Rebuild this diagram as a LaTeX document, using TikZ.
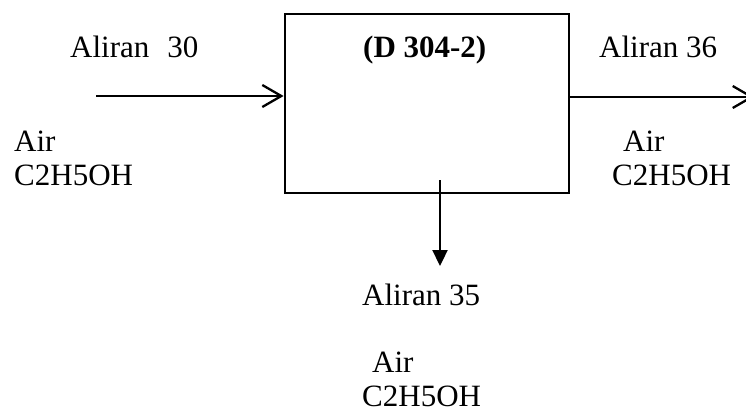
\documentclass[tikz,border=0pt]{standalone}
\usepackage{fontspec}
\setmainfont{Liberation Serif}
\usetikzlibrary{arrows.meta}
\begin{document}
\begin{tikzpicture}[x=1pt,y=-1pt,
  lbl/.style={anchor=base west,inner sep=0pt,font=\fontsize{31}{34}\selectfont},
  flow/.style={line width=2.3pt},
  openhead/.style={-{Straight Barb[length=19pt,width=22pt,line width=2.3pt]}},
  solidhead/.style={-{Triangle[length=16pt,width=15pt]}}]
\useasboundingbox (0,0) rectangle (746,412);
% drum unit
\node[draw,line width=2.8pt,minimum width=284pt,minimum height=179pt,inner sep=0pt]
  (unit) at (427,103.5) {};
\node[lbl] (tag) at (363,57) {\textbf{(D 304-2)}};
% feed stream
\coordinate (feed) at (96,96);
\draw[flow,openhead] (feed) -- (unit.west |- feed);
\node[lbl] (s30) at (70,57) {Aliran\hspace{18pt}30};
\node[lbl] (c30a) at (14,151) {Air};
\node[lbl] (c30b) at (14,185) {C2H5OH};
% top product
\coordinate (top) at (754,97);
\draw[flow,openhead] (unit.east |- top) -- (top);
\node[lbl] (s36) at (599,57) {Aliran 36};
\node[lbl] (c36a) at (623,151) {Air};
\node[lbl] (c36b) at (612,185) {C2H5OH};
% bottom product
\coordinate (drain) at (440,180);
\coordinate (bot) at (440,266);
\draw[flow,solidhead] (drain) -- (bot);
\node[lbl] (s35) at (362,305) {Aliran 35};
\node[lbl] (c35a) at (372,372) {Air};
\node[lbl] (c35b) at (362,406) {C2H5OH};
\end{tikzpicture}
\end{document}
